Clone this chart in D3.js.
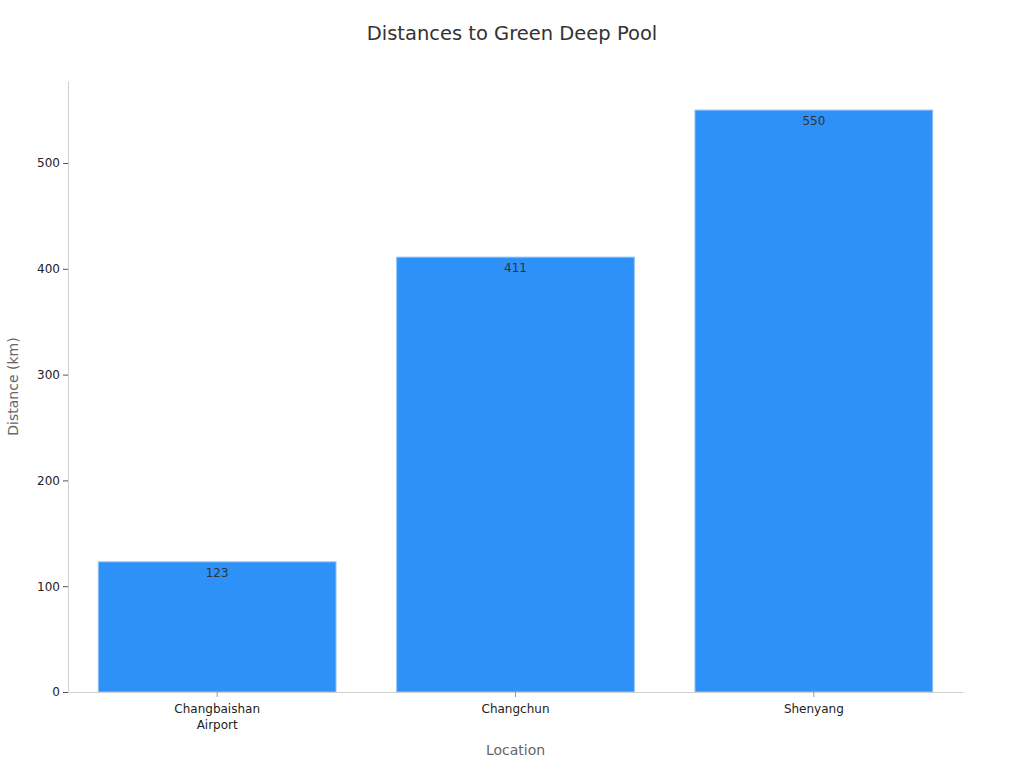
<!DOCTYPE html>
<html><head><meta charset="utf-8">
<script src="https://cdn.jsdelivr.net/npm/d3@7"></script>
<style>body{margin:0;background:#fff;font-family:"DejaVu Sans",sans-serif;}</style>
</head><body><svg id="c" width="1024" height="768"></svg>
<script>
const categories = [["Changbaishan","Airport"],["Changchun"],["Shenyang"]];
const values = [123, 411, 550];
const yTicks = [0,100,200,300,400,500];
const title = "Distances to Green Deep Pool";
const xTitle = "Location";
const yTitle = "Distance (km)";

const svg = d3.select("#c");
const m = {l:68, r:61, t:81, b:76};
const W = 1024, H = 768;
const keys = categories.map(c=>c.join(" "));
const x = d3.scaleBand().domain(keys).range([m.l, W-m.r]).paddingInner(0.2).paddingOuter(0.1);
const y = d3.scaleLinear().domain([0, 550*1.05]).range([H-m.b, m.t]);

svg.append("text").attr("x",512).attr("y",40).attr("text-anchor","middle")
  .attr("font-size",19.5).attr("fill","#333").text(title);

svg.selectAll("rect.bar").data(values).join("rect").attr("class","bar")
  .attr("x",(d,i)=>x(keys[i])+0.5).attr("width",x.bandwidth()-1)
  .attr("y",d=>y(d)).attr("height",d=>y(0)-y(d))
  .attr("fill","#2e91f8").attr("stroke","#8cc0f5").attr("stroke-width",1);

svg.selectAll("text.val").data(values).join("text").attr("class","val")
  .attr("x",(d,i)=>x(keys[i])+x.bandwidth()/2).attr("y",d=>y(d)+15)
  .attr("text-anchor","middle").attr("font-size",12).attr("fill","#333").text(d=>d);

const ya = svg.append("g").attr("transform",`translate(${m.l},0)`)
  .call(d3.axisLeft(y).tickValues(yTicks).tickSize(5).tickSizeOuter(0).tickPadding(3));
ya.select(".domain").attr("stroke","#d0d0d0");
ya.selectAll(".tick line").attr("stroke","#555");
ya.selectAll(".tick text").attr("font-size",12).attr("fill","#222").attr("font-family","DejaVu Sans");

const xa = svg.append("g").attr("transform",`translate(0,${H-m.b})`)
  .call(d3.axisBottom(x).tickSize(5).tickPadding(7).tickSizeOuter(0));
xa.select(".domain").attr("stroke","#d0d0d0");
xa.selectAll(".tick line").attr("stroke","#999");
xa.selectAll(".tick text").attr("font-size",12).attr("fill","#222").attr("font-family","DejaVu Sans")
  .each(function(d,i){
    const t=d3.select(this); t.text(null);
    categories[i].forEach((s,j)=>t.append("tspan").attr("x",0).attr("dy",j?"1.35em":"0.71em").text(s));
  });

svg.append("text").attr("x",(m.l+W-m.r)/2).attr("y",755).attr("text-anchor","middle")
  .attr("font-size",14).attr("fill","#666").text(xTitle);
svg.append("text").attr("transform",`translate(18,${(m.t+H-m.b)/2}) rotate(-90)`)
  .attr("text-anchor","middle").attr("font-size",14).attr("fill","#666").text(yTitle);
</script></body></html>
